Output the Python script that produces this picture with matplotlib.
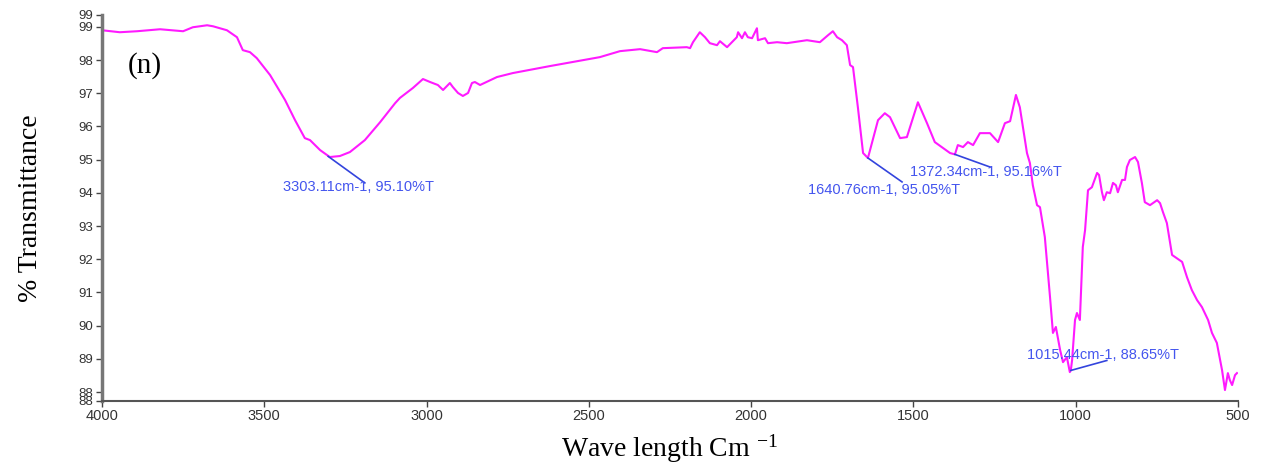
import numpy as np
import matplotlib.pyplot as plt

plt.rcParams['mathtext.fontset'] = 'stix'

# FTIR spectrum (wavenumber cm-1, %T)
wavenumber = [4000, 3945, 3892, 3821, 3750, 3720, 3676, 3658, 3615, 3584,
              3566, 3544, 3523, 3482, 3436, 3405, 3375, 3359, 3328, 3298,
              3267, 3236, 3190, 3143, 3097, 3082, 3042, 3011, 2989, 2965,
              2949, 2928, 2919, 2903, 2888, 2872, 2860, 2851, 2835, 2783,
              2734, 2620, 2466, 2404, 2342, 2290, 2272, 2198, 2188, 2179,
              2158, 2142, 2127, 2105, 2096, 2074, 2044, 2040, 2028, 2019,
              2010, 1997, 1982, 1979, 1957, 1948, 1920, 1890, 1828, 1788,
              1763, 1748, 1735, 1720, 1705, 1695, 1686, 1671, 1655, 1640,
              1609, 1588, 1572, 1541, 1520, 1486, 1458, 1434, 1387, 1372,
              1363, 1347, 1332, 1316, 1295, 1264, 1239, 1218, 1202, 1184,
              1172, 1150, 1141, 1132, 1119, 1110, 1095, 1079, 1070, 1061,
              1048, 1039, 1027, 1018, 1015, 1011, 1002, 996, 987, 978,
              971, 962, 950, 934, 928, 919, 913, 904, 894, 885,
              876, 870, 857, 848, 842, 833, 817, 808, 796, 787,
              771, 749, 740, 731, 719, 703, 672, 657, 642, 626,
              611, 592, 580, 565, 549, 540, 531, 525, 518, 509, 503]
transmittance = [98.90, 98.84, 98.87, 98.93, 98.87, 98.99, 99.05, 99.02, 98.90, 98.69,
                 98.30, 98.24, 98.06, 97.55, 96.80, 96.19, 95.65, 95.59, 95.29, 95.08,
                 95.11, 95.23, 95.59, 96.13, 96.70, 96.86, 97.16, 97.43, 97.34, 97.25,
                 97.10, 97.31, 97.19, 97.01, 96.92, 97.01, 97.31, 97.34, 97.25, 97.49,
                 97.61, 97.82, 98.09, 98.27, 98.33, 98.24, 98.36, 98.39, 98.36, 98.54,
                 98.84, 98.69, 98.51, 98.45, 98.57, 98.39, 98.69, 98.84, 98.66, 98.84,
                 98.69, 98.66, 98.96, 98.60, 98.66, 98.51, 98.54, 98.51, 98.60, 98.54,
                 98.75, 98.87, 98.69, 98.60, 98.45, 97.85, 97.79, 96.58, 95.20, 95.05,
                 96.19, 96.40, 96.28, 95.65, 95.68, 96.73, 96.10, 95.53, 95.20, 95.16,
                 95.44, 95.38, 95.53, 95.44, 95.80, 95.80, 95.53, 96.10, 96.16, 96.95,
                 96.58, 95.20, 94.90, 94.23, 93.63, 93.57, 92.67, 90.86, 89.78, 89.96,
                 89.27, 88.90, 89.05, 88.60, 88.65, 88.96, 90.17, 90.38, 90.17, 92.37,
                 92.88, 94.08, 94.17, 94.60, 94.54, 94.02, 93.78, 94.02, 93.99, 94.30,
                 94.23, 94.02, 94.39, 94.39, 94.78, 94.99, 95.08, 94.93, 94.30, 93.72,
                 93.63, 93.78, 93.69, 93.42, 93.09, 92.13, 91.92, 91.46, 91.07, 90.77,
                 90.56, 90.17, 89.78, 89.48, 88.66, 88.06, 88.57, 88.36, 88.21, 88.51, 88.57]

# peak labels: peak position, end of the leader line, text anchor (left edge)
peak_labels = ["3303.11cm-1, 95.10%T", "1640.76cm-1, 95.05%T",
               "1372.34cm-1, 95.16%T", "1015.44cm-1, 88.65%T"]
peak_x = [3303, 1640, 1372, 1015]
peak_y = [95.10, 95.05, 95.16, 88.65]
line_end_x = [3190, 1535, 1264, 904]
line_end_y = [94.30, 94.33, 94.78, 88.95]
text_x = [3442, 1825, 1510, 1150]
text_y = [94.17, 94.08, 94.63, 89.11]

ymin, ymax = 87.73, 99.36
yticks = [ymin] + list(range(88, 100)) + [ymax]
xticks = [4000, 3500, 3000, 2500, 2000, 1500, 1000, 500]

fig = plt.figure(figsize=(12.68, 4.68), dpi=100)
ax = fig.add_axes([0.0804, 0.1432, 0.8959, 0.8248])

ax.plot(wavenumber, transmittance, color='#ff1aff', lw=1.5)

for i in range(len(peak_labels)):
    ax.plot([peak_x[i], line_end_x[i]], [peak_y[i], line_end_y[i]], color='#3344dd', lw=1.2)
    ax.text(text_x[i], text_y[i], peak_labels[i], color='#4455ee', fontsize=10.5,
            family='Liberation Sans', va='center', ha='left')

ax.set_xlim(4000, 500)
ax.set_ylim(ymin, ymax)
ax.set_xticks(xticks)
ax.set_xticklabels([str(t) for t in xticks])
ax.set_yticks(yticks)
ax.set_yticklabels([str(int(round(t))) for t in yticks])

for s in ['top', 'right']:
    ax.spines[s].set_visible(False)
ax.spines['left'].set_color('#777777')
ax.spines['left'].set_linewidth(2.5)
ax.spines['bottom'].set_color('#555555')
ax.spines['bottom'].set_linewidth(1.5)
ax.tick_params(direction='out', length=4, width=1, colors='#444444', labelsize=10.5, pad=2)
ax.tick_params(axis='y', labelsize=9.5)
for lab in ax.get_xticklabels() + ax.get_yticklabels():
    lab.set_family('Liberation Sans')
    lab.set_color('#333333')

ax.text(0.023, 0.87, '(n)', transform=ax.transAxes, fontsize=21,
        family='Liberation Serif', va='center', ha='left')
ax.set_xlabel('Wave length Cm $^{\\mathregular{-1}}$', fontsize=20, family='Liberation Serif', labelpad=6)
ax.set_ylabel('% Transmittance', fontsize=20, family='Liberation Serif', labelpad=26)

fig.savefig('out.png', dpi=100)
